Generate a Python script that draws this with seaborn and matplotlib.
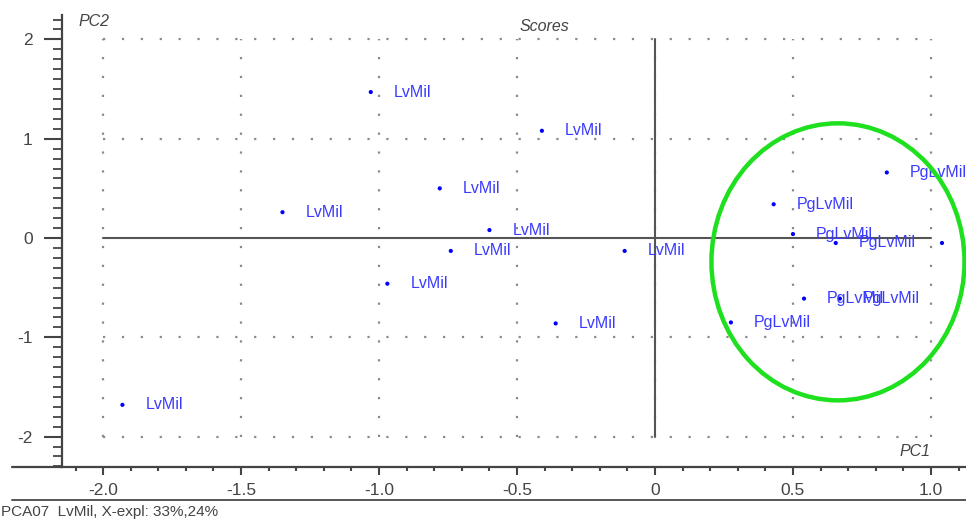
import pandas as pd
import numpy as np
import matplotlib
matplotlib.use("Agg")
import matplotlib.pyplot as plt
from matplotlib.patches import Ellipse
from matplotlib.lines import Line2D
from matplotlib.ticker import MultipleLocator, FuncFormatter
import seaborn as sns

# PCA scores
lv_pc1 = [-1.03, -0.41, -1.35, -0.78, -0.60, -0.74, -0.11, -0.97, -0.36, -1.93]
lv_pc2 = [1.47, 1.08, 0.26, 0.50, 0.08, -0.13, -0.13, -0.46, -0.86, -1.68]
pg_pc1 = [0.84, 0.43, 1.04, 0.50, 0.655, 0.54, 0.67, 0.275]
pg_pc2 = [0.66, 0.34, -0.05, 0.04, -0.05, -0.61, -0.61, -0.85]

x_ticks = [-2.0, -1.5, -1.0, -0.5, 0, 0.5, 1.0]
y_ticks = [-2, -1, 0, 1, 2]

df = pd.DataFrame({
    'PC1': lv_pc1 + pg_pc1,
    'PC2': lv_pc2 + pg_pc2,
    'sample': ['LvMil'] * len(lv_pc1) + ['PgLvMil'] * len(pg_pc1),
})

sns.set_style("ticks")
plt.rcParams['font.family'] = ['Liberation Sans', 'DejaVu Sans']

W, H = 966, 520
fig = plt.figure(figsize=(W / 100, H / 100), dpi=100)
ax = fig.add_axes([62 / W, 53 / H, (W - 62) / W, (467 - 15) / H])
ax.set_xlim(-2.149, 1.127)
ax.set_ylim(-2.306, 2.246)

grid_kw = dict(color='#8a8a8a', linestyle=(0, (1, 7.5)), linewidth=1.6, zorder=1)
for xv in x_ticks:
    ax.plot([xv, xv], [y_ticks[0], y_ticks[-1]], **grid_kw)
for yv in y_ticks:
    if yv != 0:
        ax.plot([x_ticks[0], x_ticks[-1]], [yv, yv], **grid_kw)
ax.plot([x_ticks[0], x_ticks[-1]], [0, 0], color='#555555', lw=1.5, zorder=2)
ax.plot([0, 0], [y_ticks[0], y_ticks[-1]], color='#555555', lw=1.5, zorder=2)

sns.scatterplot(data=df, x='PC1', y='PC2', ax=ax, color='#0000ff', s=9,
                edgecolor='none', legend=False, zorder=3)
for _, r in df.iterrows():
    ax.annotate(r['sample'], (r['PC1'], r['PC2']), xytext=(16.5, 0),
                textcoords='offset points', va='center', ha='left',
                fontsize=11.5, color='#3b3bff', annotation_clip=False, zorder=4)

# green highlight ring around the PgLvMil group
ax.add_patch(Ellipse((0.663, -0.24), 0.917, 2.79, fill=False,
                     edgecolor='#1ee01e', lw=3.2, zorder=5, clip_on=False))

for s in ['top', 'right']:
    ax.spines[s].set_visible(False)
for s in ['left', 'bottom']:
    ax.spines[s].set_color('#444444')
    ax.spines[s].set_linewidth(1.6)

ax.set_xticks(x_ticks)
ax.set_yticks(y_ticks)
ax.xaxis.set_major_formatter(FuncFormatter(lambda v, p: '0' if abs(v) < 1e-9 else f'{v:.1f}'))
ax.yaxis.set_major_formatter(FuncFormatter(lambda v, p: f'{v:.0f}'))
ax.xaxis.set_minor_locator(MultipleLocator(0.1))
ax.yaxis.set_minor_locator(MultipleLocator(0.1))
ax.tick_params(axis='both', which='both', bottom=True, left=True, top=False, right=False)
ax.tick_params(axis='x', which='major', length=5.5, width=1.5, color='#444444',
               labelsize=12.5, labelcolor='#444444', direction='out', pad=6)
ax.tick_params(axis='x', which='minor', length=3, width=1.5, color='#444444', direction='out')
ax.tick_params(axis='y', which='major', length=13, width=1.5, color='#444444',
               labelsize=12.5, labelcolor='#444444', direction='out', pad=8)
ax.tick_params(axis='y', which='minor', length=6.5, width=1.3, color='#444444', direction='out')
ax.set_xlabel('')
ax.set_ylabel('')

ax.text(0.018, 0.985, 'PC2', transform=ax.transAxes, fontsize=11.5, style='italic',
        color='#444444', va='center', ha='left')
ax.text(-0.4, 2.13, 'Scores', fontsize=11.5, style='italic', color='#444444',
        va='center', ha='center')
ax.text(1.0, -2.15, 'PC1', fontsize=11.5, style='italic', color='#444444',
        va='center', ha='right')

# bottom axis line continues to the left, then a footer rule and caption
fig.add_artist(Line2D([12 / W, 62 / W], [53 / H, 53 / H], color='#444444', lw=1.6))
fig.add_artist(Line2D([12 / W, 1.0], [20 / H, 20 / H], color='#555555', lw=1.4))
fig.text(1 / W, 8 / H, 'PCA07  LvMil, X-expl: 33%,24%', fontsize=11, color='#444444',
         va='center', ha='left')

plt.savefig('out.png', dpi=100)
